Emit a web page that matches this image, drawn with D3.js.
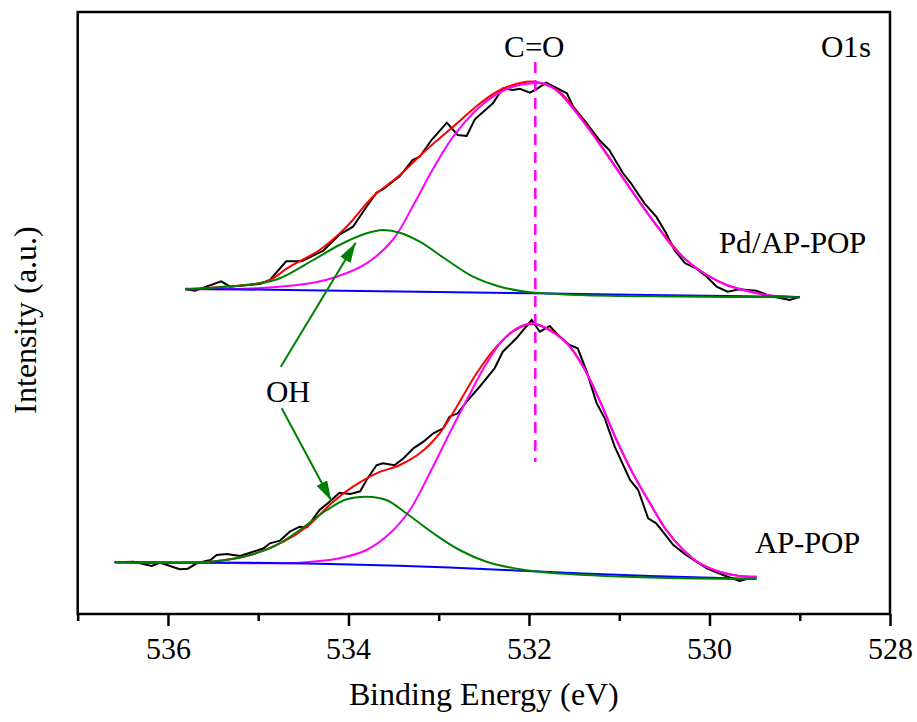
<!DOCTYPE html>
<html>
<head>
<meta charset="utf-8">
<script src="https://cdn.jsdelivr.net/npm/d3@7"></script>
<style>
  @font-face {
    font-family: "SerifLocal";
    src: local("Liberation Serif"), local("LiberationSerif"), local("Liberation Serif Regular"),
         local("LiberationSerif-Regular"), local("DejaVu Serif"), local("DejaVuSerif");
  }
  body { margin: 0; background: #fff; }
  svg text { font-family: "SerifLocal", "Liberation Serif", "DejaVu Serif", serif; }
</style>
</head>
<body>
<div id="chart"></div>
<script>
// binding energy ticks (eV)
const majorTicks = [536, 534, 532, 530, 528];
const minorTicks = [537, 535, 533, 531, 529];

// Pd/AP-POP spectrum: [binding energy, intensity]
const pdRaw = [[535.81,324.7],[535.70,323.3],[535.41,332.7],[535.31,327.3],[534.98,330],[534.87,334],[534.69,352.7],[534.52,352.7],[534.28,363.3],[534.10,379.3],[533.95,387.3],[533.80,407.3],[533.69,421.3],[533.62,424.7],[533.43,438],[533.29,454],[533.21,457.3],[533.08,474],[532.91,491.3],[532.79,479],[532.69,478],[532.60,494.7],[532.40,510.7],[532.29,525.7],[532.18,524],[532.10,525.3],[531.99,521.3],[531.92,524.7],[531.81,531.3],[531.58,520.7],[531.51,507.3],[531.36,490.7],[531.22,474],[531.11,464],[530.96,441],[530.87,430.7],[530.72,410.7],[530.59,397.3],[530.48,380.7],[530.39,364],[530.27,350.7],[530.15,345.7],[530.03,337.3],[529.92,327.3],[529.80,322.3],[529.67,324.7],[529.48,323.3],[529.33,318],[529.11,314],[529.00,317.3]];
const pdFit = [[535.81,324.7],[534.98,331],[534.87,334],[534.65,347.3],[534.32,364],[534.02,387.3],[533.73,417.3],[533.43,439],[533.14,464],[532.84,487.3],[532.54,510.7],[532.32,524],[532.03,532.3],[531.88,531.3],[531.66,522],[531.47,502],[531.29,480],[531.11,456.5],[530.92,431.3],[530.74,407.8],[530.55,384.3],[530.26,354.2],[530.03,339.1],[529.81,329],[529.59,323.3],[529.37,319],[529.00,316.7]];
const pdCO = [[535.81,324.7],[534.98,326],[534.39,331.3],[534.13,337.3],[533.80,350.7],[533.51,374],[533.29,407.3],[533.07,444],[532.84,477.3],[532.62,500.7],[532.40,517.3],[532.18,527.3],[531.96,530.7],[531.81,530],[531.66,520.7],[531.47,500.7],[531.29,479],[531.11,455.7],[530.92,430.7],[530.74,407.3],[530.55,384],[530.44,370.7],[530.26,354],[530.03,339],[529.81,329],[529.59,323.3],[529.37,319],[529.00,316.7]];
const pdOH = [[535.81,324.7],[534.98,330.7],[534.76,335.7],[534.39,354],[534.10,369],[533.80,380.7],[533.62,384],[533.43,381.3],[533.21,372.3],[532.91,354],[532.62,337.3],[532.32,327.3],[532.03,322.3],[531.44,319],[530.33,317.5],[529.00,316.7]];
const pdBase = [[535.81,325.3],[533.87,323],[531.96,320.7],[529.00,317]];

// AP-POP spectrum
const apRaw = [[536.59,51.7],[536.38,52.3],[536.18,48],[536.09,51.3],[536.01,49],[535.87,44.7],[535.78,45.3],[535.68,50.7],[535.53,54],[535.46,59],[535.35,60],[535.20,58],[535.09,61.3],[534.94,65.7],[534.87,70.7],[534.76,73.3],[534.65,82.3],[534.54,87.3],[534.46,86.7],[534.32,104],[534.21,112.3],[534.10,121.3],[533.98,120],[533.87,122.7],[533.80,134],[533.69,148.7],[533.62,150.7],[533.49,148.7],[533.39,155.7],[533.28,165.7],[533.17,172.3],[533.06,180.7],[532.95,185.7],[532.88,197.3],[532.79,200.7],[532.69,212.3],[532.54,228],[532.38,245.7],[532.29,262.3],[532.14,275.7],[531.97,294],[531.88,282.3],[531.77,288],[531.66,277.3],[531.55,269],[531.46,265.7],[531.36,242.3],[531.25,210.7],[531.16,195.7],[531.05,167.3],[530.88,134],[530.79,124],[530.68,95.7],[530.59,90.7],[530.40,69],[530.26,59],[530.03,45.7],[529.85,39],[529.67,33],[529.48,37.3]];
const apFit = [[536.59,51.7],[535.53,52.3],[535.09,59],[534.72,72.3],[534.46,87.3],[534.17,112.3],[533.95,127.3],[533.69,140.7],[533.43,149],[533.21,160.7],[532.99,180.7],[532.80,207.3],[532.58,240.7],[532.36,267.3],[532.18,282.3],[531.99,290],[531.81,286],[531.58,271],[531.40,247.5],[531.22,214.2],[531.03,174.2],[530.85,140.9],[530.66,110.9],[530.48,84.1],[530.29,64.1],[530.11,50.8],[529.89,42.3],[529.67,38],[529.48,37.3]];
const apCO = [[536.59,51.7],[535.65,51.2],[534.54,51.3],[534.10,55.7],[533.80,64],[533.54,80.7],[533.32,104],[533.10,140.7],[532.88,180.7],[532.69,214],[532.47,250.7],[532.29,274],[532.10,287.3],[531.95,290.7],[531.81,285.7],[531.58,270.7],[531.40,247.3],[531.22,214],[531.03,174],[530.85,140.7],[530.66,110.7],[530.48,84],[530.29,64],[530.11,50.7],[529.89,42.3],[529.67,38],[529.48,37.3]];
const apOH = [[536.59,51.7],[535.53,52.3],[535.13,58],[534.83,67.3],[534.54,84],[534.24,104],[534.02,114.7],[533.80,117.3],[533.58,114],[533.36,100.7],[533.06,80.7],[532.77,64],[532.47,52.3],[532.10,44.7],[531.77,41.3],[530.66,36.5],[529.48,35]];
const apBase = [[536.59,51.7],[535.09,51.2],[533.98,49.5],[532.88,46.5],[531.77,42],[530.66,38],[529.48,35]];

// C=O reference line: energy, intensity range
const coLine = { ev: 531.93, from: 152, to: 552 };

const W = 917, H = 722;
const plotL = 77.7, plotR = 890, plotT = 12, plotB = 614;

const x = d3.scaleLinear().domain([537, 528]).range([plotL, plotR]);
const y = d3.scaleLinear().domain([0, 602]).range([plotB, plotT]);

const svg = d3.select('#chart').append('svg').attr('width', W).attr('height', H);

svg.append('defs').append('marker')
  .attr('id', 'arrow').attr('viewBox', '0 0 20 12').attr('refX', 20).attr('refY', 6)
  .attr('markerWidth', 20).attr('markerHeight', 12).attr('markerUnits', 'userSpaceOnUse')
  .attr('orient', 'auto')
  .append('path').attr('d', 'M0,0L20,6L0,12Z').attr('fill', '#008000');

// axis ticks
const ax = svg.append('g').attr('transform', `translate(0,${plotB})`)
  .call(d3.axisBottom(x).tickValues(majorTicks).tickSize(12).tickFormat(d3.format('d')));
ax.attr('font-family', null).attr('font-size', null);
ax.select('.domain').remove();
ax.selectAll('line').attr('stroke', '#000').attr('stroke-width', 2.5);
ax.selectAll('text').attr('y', 45).attr('dy', 0).attr('fill', '#000').style('font-size', '30px');

const axMinor = svg.append('g').attr('transform', `translate(0,${plotB})`)
  .call(d3.axisBottom(x).tickValues(minorTicks).tickSize(7).tickFormat(''));
axMinor.select('.domain').remove();
axMinor.selectAll('line').attr('stroke', '#000').attr('stroke-width', 2.5);

svg.append('rect').attr('x', plotL).attr('y', plotT).attr('width', plotR - plotL).attr('height', plotB - plotT)
  .attr('fill', 'none').attr('stroke', '#000').attr('stroke-width', 2.5);

const raw = d3.line().x(d => x(d[0])).y(d => y(d[1]));
const smooth = d3.line().x(d => x(d[0])).y(d => y(d[1])).curve(d3.curveCatmullRom.alpha(0.5));

function drawSpectrum(rawData, fit, co, oh, base) {
  svg.append('path').datum(rawData).attr('d', raw).attr('fill', 'none').attr('stroke', '#000').attr('stroke-width', 2);
  svg.append('path').datum(fit).attr('d', smooth).attr('fill', 'none').attr('stroke', '#ff0000').attr('stroke-width', 2);
  svg.append('path').datum(co).attr('d', smooth).attr('fill', 'none').attr('stroke', '#ff00ff').attr('stroke-width', 2);
  svg.append('path').datum(base).attr('d', smooth).attr('fill', 'none').attr('stroke', '#0000ff').attr('stroke-width', 2);
  svg.append('path').datum(oh).attr('d', smooth).attr('fill', 'none').attr('stroke', '#008000').attr('stroke-width', 2);
}
drawSpectrum(pdRaw, pdFit, pdCO, pdOH, pdBase);
drawSpectrum(apRaw, apFit, apCO, apOH, apBase);

svg.append('line')
  .attr('x1', x(coLine.ev)).attr('x2', x(coLine.ev))
  .attr('y1', y(coLine.to)).attr('y2', y(coLine.from))
  .attr('stroke', '#ff00ff').attr('stroke-width', 2.5).attr('stroke-dasharray', '11,7');

// OH arrows
svg.append('line').attr('x1', x(534.75)).attr('y1', y(247.3)).attr('x2', x(533.92)).attr('y2', y(371.3))
  .attr('stroke', '#008000').attr('stroke-width', 2).attr('marker-end', 'url(#arrow)');
svg.append('line').attr('x1', x(534.74)).attr('y1', y(205.7)).attr('x2', x(534.19)).attr('y2', y(113.3))
  .attr('stroke', '#008000').attr('stroke-width', 2).attr('marker-end', 'url(#arrow)');

const label = (t, px, py, size) => svg.append('text').attr('x', px).attr('y', py)
  .attr('text-anchor', 'middle').style('font-size', size + 'px').attr('fill', '#000').text(t);

label('C=O', 534, 57, 31);
label('O1s', 846, 57, 31);
label('Pd/AP-POP', 792.7, 253.3, 31);
label('AP-POP', 807.5, 553.3, 31);
label('OH', 288.3, 402.3, 31);

label('Binding Energy (eV)', (plotL + plotR) / 2, 705, 32);
svg.append('text').attr('transform', 'translate(36,320) rotate(-90)')
  .attr('text-anchor', 'middle').style('font-size', '32px').attr('fill', '#000').text('Intensity (a.u.)');
</script>
</body>
</html>
